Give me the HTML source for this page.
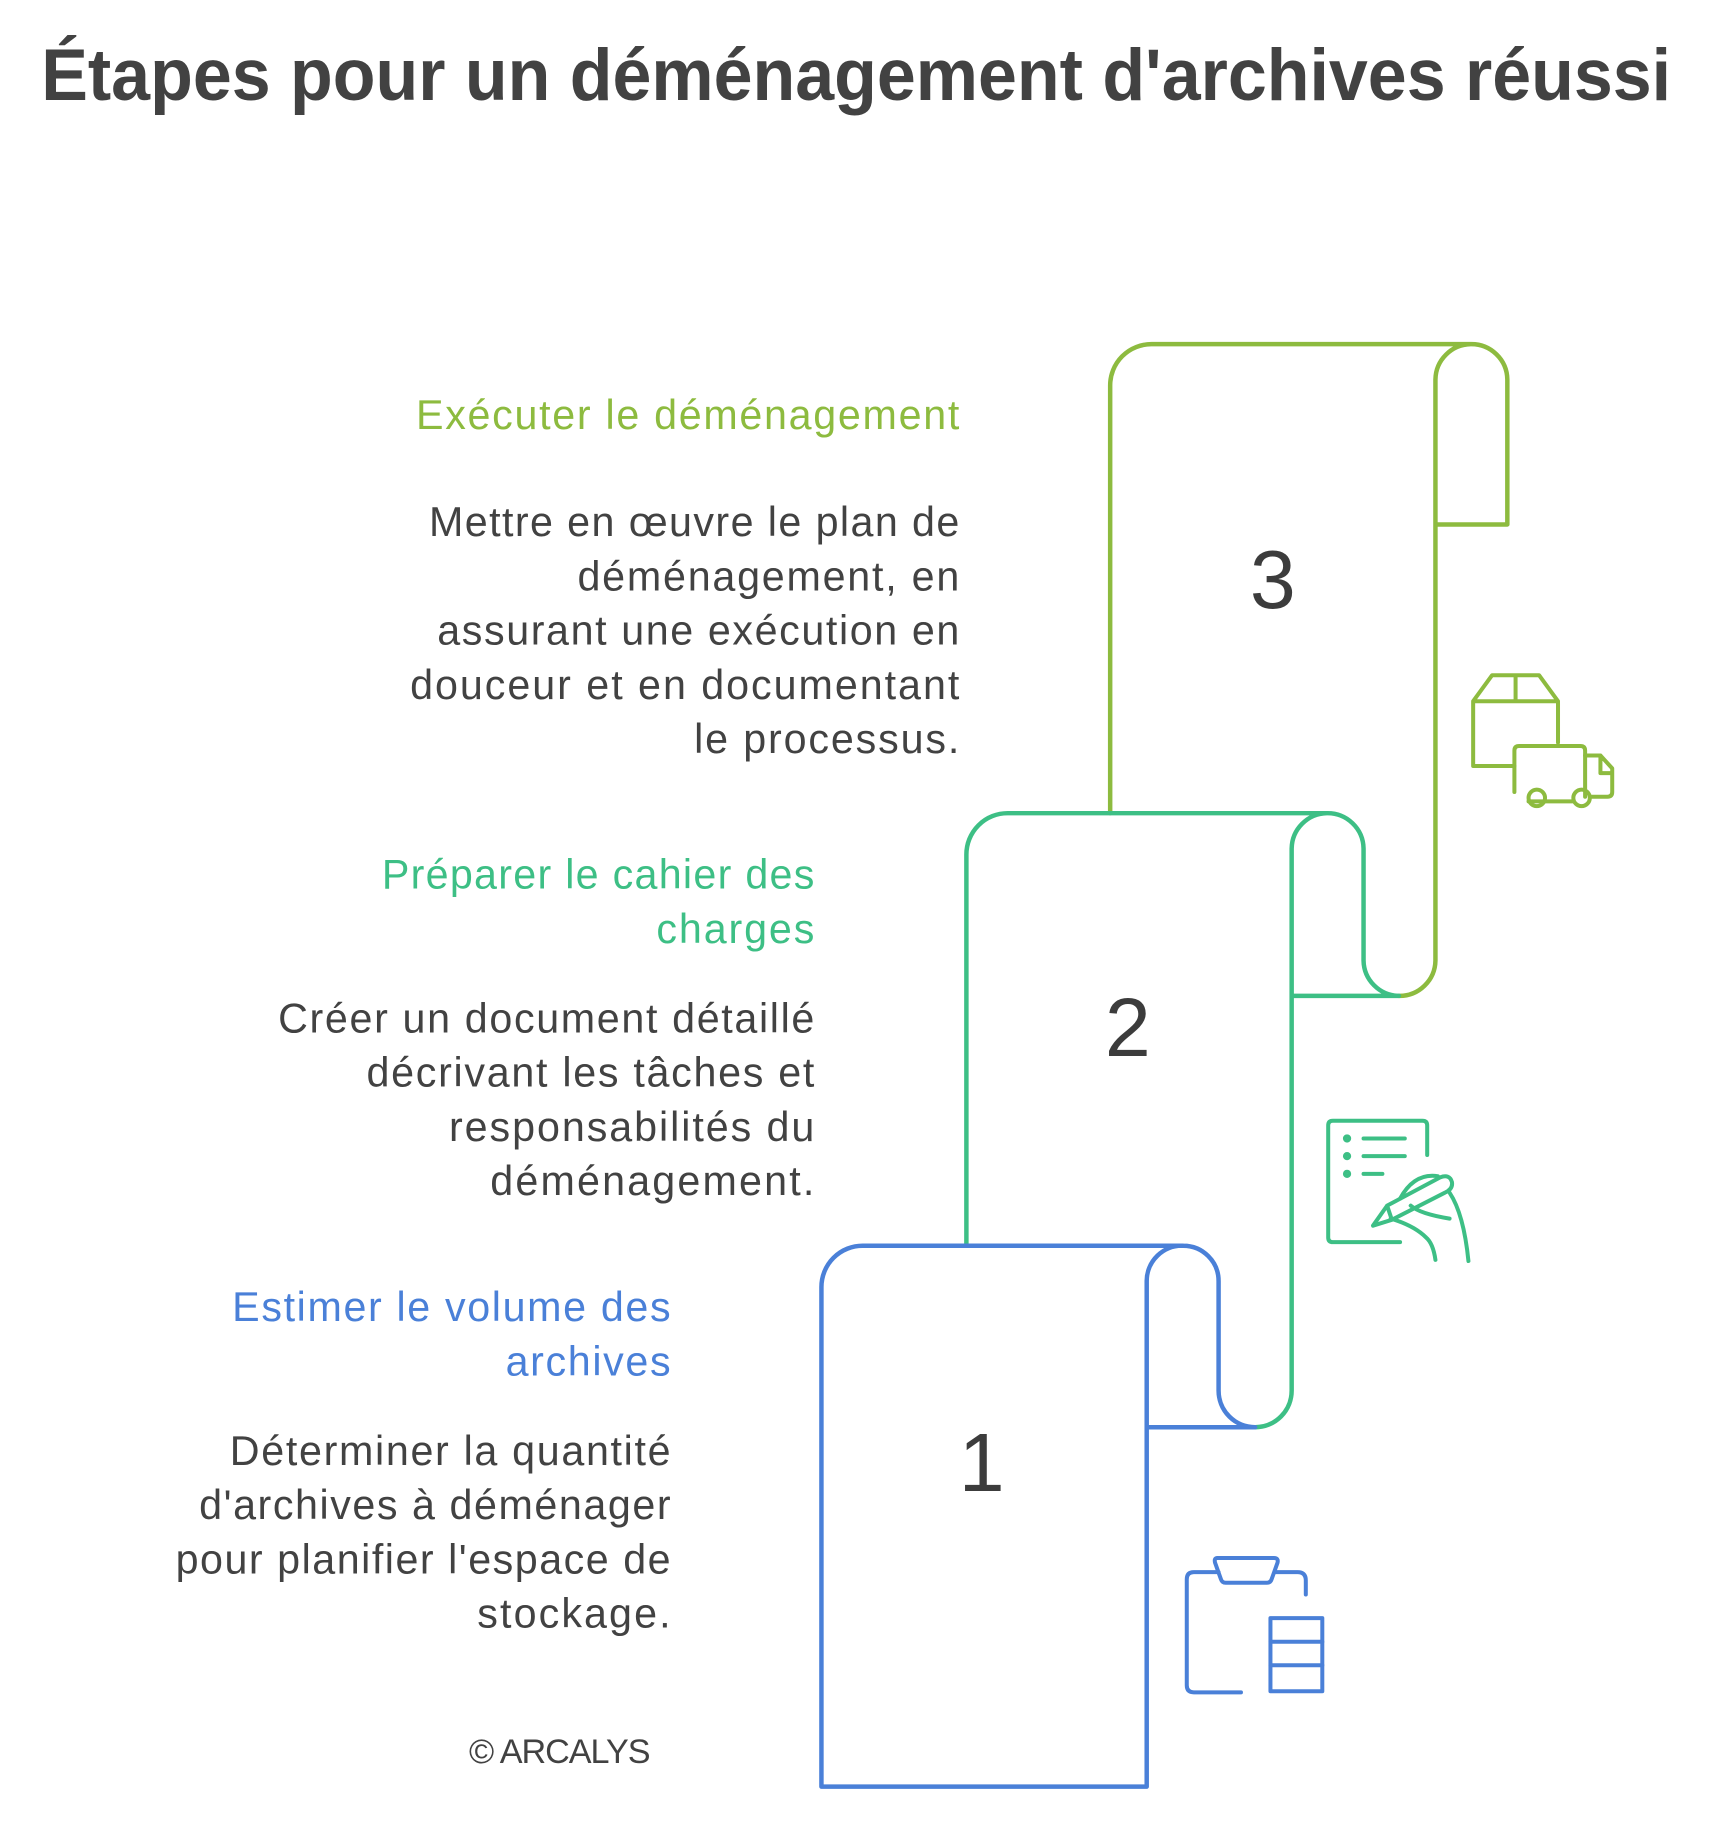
<!DOCTYPE html>
<html><head><meta charset="utf-8"><style>html,body{margin:0;padding:0;background:#fff}svg{display:block}</style></head>
<body>
<svg width="1723" height="1845" viewBox="0 0 1462 1565.5" xmlns="http://www.w3.org/2000/svg" font-family="'Liberation Sans', sans-serif">
<rect width="1462" height="1566" fill="#fff"/>
<text x="35" y="85" font-size="62" font-weight="bold" fill="#424242" textLength="1383" lengthAdjust="spacingAndGlyphs">Étapes pour un déménagement d'archives réussi</text>

<g fill="none" stroke-width="3.8" stroke-linecap="round" stroke-linejoin="round">
<path stroke="#8dbb3f" d="M942,690 V327 A35,35 0 0 1 977,292 H1248 A30.5,30.5 0 0 1 1279,322 V445 H1218 M1248,292 A30.5,30.5 0 0 0 1218,322 V815 A30.5,30.5 0 0 1 1187,845"/>
<path stroke="#3dbf85" d="M820,1057 V725 A35,35 0 0 1 855,690 H1126 A30.5,30.5 0 0 1 1157,720 V815 A30.5,30.5 0 0 0 1187,845 H1096 M1126,690 A30.5,30.5 0 0 0 1096,720 V1180 A31,31 0 0 1 1065,1211"/>
<path stroke="#4a80d8" d="M697,1516 V1092 A35,35 0 0 1 732,1057 H1004 A30,30 0 0 1 1034,1087 V1180 A31,31 0 0 0 1065,1211 H973 M1004,1057 A30,30 0 0 0 973,1087 V1516 H697"/>

<g stroke="#8dbb3f" stroke-width="3.4">
<path d="M1285,650 H1250 V595 L1266,573 H1306 L1322,595 V630 M1250,595 H1322 M1286,573 V595"/>
<path d="M1285,672 V637 Q1285,633 1289,633 H1341 Q1345,633 1345,637 V676 M1297,680 H1334"/>
<path d="M1345,641 H1358 L1368,652 V672 Q1368,676 1364,676 H1350 M1358,641 V656 H1368"/>
<circle cx="1304" cy="677" r="7"/><circle cx="1342" cy="677" r="7"/>
</g>

<g stroke="#3dbf85" stroke-width="3.4">
<path d="M1188,1054 H1131 Q1127,1054 1127,1050 V955 Q1127,951 1131,951 H1207 Q1211,951 1211,955 V980"/>
<path d="M1157,966 H1192 M1157,981 H1192 M1157,996 H1173"/>
<circle cx="1143" cy="966" r="1.8"/><circle cx="1143" cy="981" r="1.8"/><circle cx="1143" cy="996" r="1.8"/>
<path d="M1165,1040 L1177,1023 L1222,999 Q1230,996 1232,1003 Q1233,1009 1226,1012 L1181,1035 Z M1177,1023 L1181,1035"/>
<path d="M1188,1017 Q1200,995 1220,998"/>
<path d="M1230,1012 Q1242,1030 1246,1070 M1180,1034 Q1200,1040 1210,1050 Q1216,1055 1218,1069 M1197,1023 Q1205,1030 1230,1034"/>
</g>

<g stroke="#4a80d8" stroke-width="3.4">
<path d="M1053,1436 H1013 Q1007,1436 1007,1430 V1340 Q1007,1334 1013,1334 H1034 M1082,1334 H1101 Q1108,1334 1108,1341 V1353"/>
<path d="M1033,1322 H1081 Q1085,1322 1084,1326 L1079,1340 Q1078,1343 1075,1343 H1040 Q1037,1343 1036,1340 L1031,1326 Q1030,1322 1033,1322 Z"/>
<rect x="1078" y="1373" width="44" height="62"/>
<path d="M1078,1393 H1122 M1078,1413 H1122"/>
</g>
</g>

<g font-size="70" fill="#3c3c3c" text-anchor="middle">
<text x="1080" y="516">3</text>
<text x="957" y="896">2</text>
<text x="833" y="1265">1</text>
</g>

<g text-anchor="end" font-size="35" lengthAdjust="spacingAndGlyphs">
<text x="814" y="364" fill="#8dbb3f" textLength="461">Exécuter le déménagement</text>
<text x="691" y="754" fill="#3dbf85" textLength="367">Préparer le cahier des</text>
<text x="691" y="800" fill="#3dbf85" textLength="134">charges</text>
<text x="569" y="1121" fill="#4a80d8" textLength="372">Estimer le volume des</text>
<text x="569" y="1167" fill="#4a80d8" textLength="140">archives</text>
</g>
<g text-anchor="end" font-size="35" fill="#424242" lengthAdjust="spacingAndGlyphs">
<text x="814" y="455" textLength="450">Mettre en œuvre le plan de</text>
<text x="814" y="501" textLength="324">déménagement, en</text>
<text x="814" y="547" textLength="443">assurant une exécution en</text>
<text x="814" y="593" textLength="466">douceur et en documentant</text>
<text x="814" y="639" textLength="225">le processus.</text>
<text x="691" y="876" textLength="455">Créer un document détaillé</text>
<text x="691" y="922" textLength="380">décrivant les tâches et</text>
<text x="691" y="968" textLength="310">responsabilités du</text>
<text x="691" y="1014" textLength="275">déménagement.</text>
<text x="569" y="1243" textLength="374">Déterminer la quantité</text>
<text x="569" y="1289" textLength="400">d'archives à déménager</text>
<text x="569" y="1335" textLength="420">pour planifier l'espace de</text>
<text x="569" y="1381" textLength="164">stockage.</text>
<text x="552" y="1496" font-size="29" textLength="154">© ARCALYS</text>
</g>
</svg>
</body></html>
